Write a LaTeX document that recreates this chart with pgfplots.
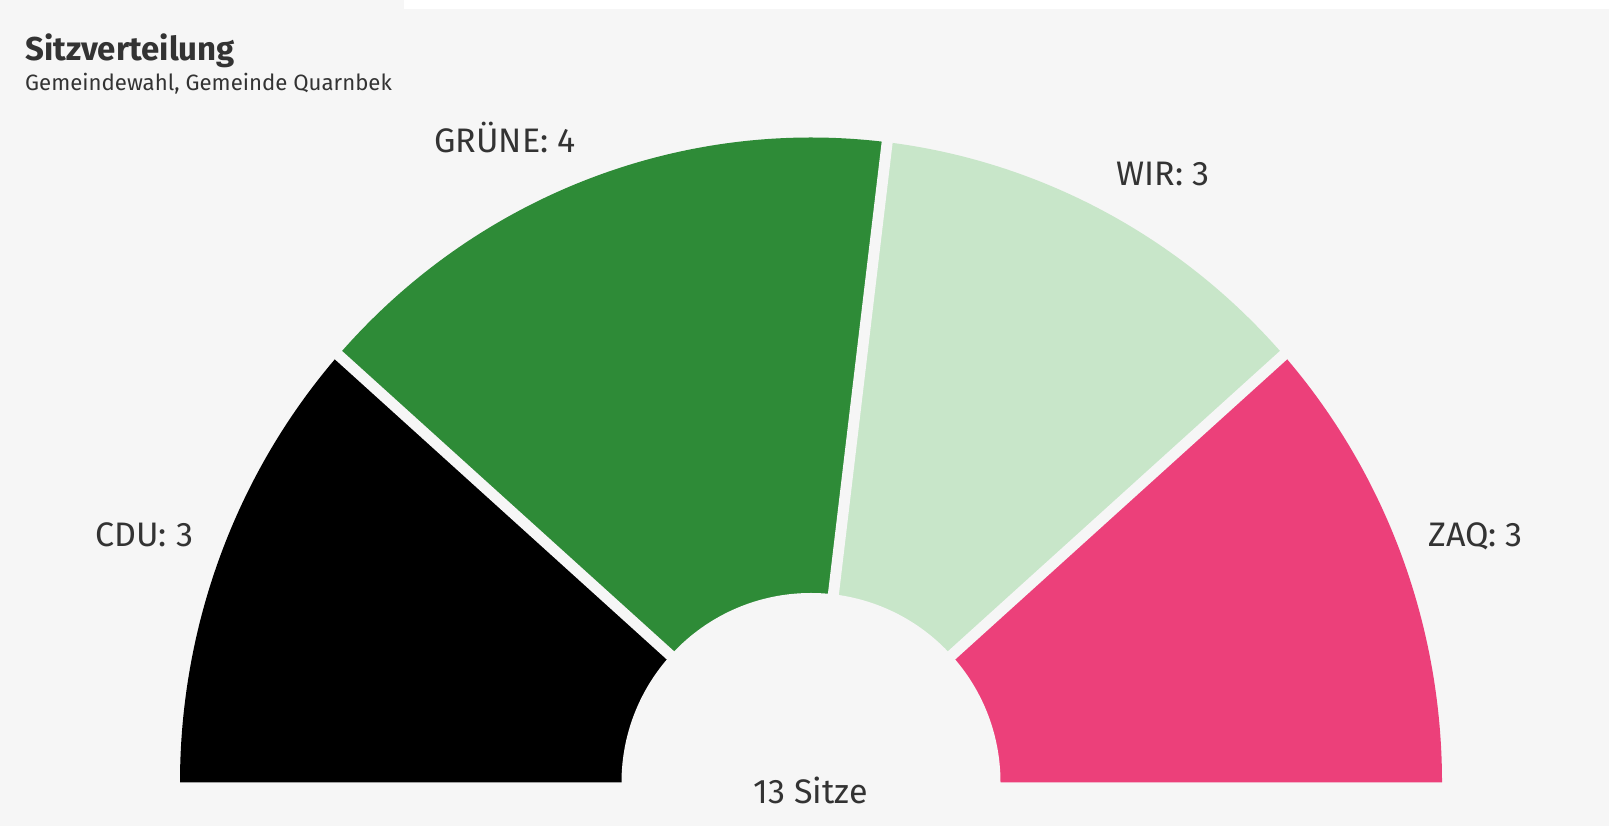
\documentclass[border=0pt]{standalone}
\usepackage{fontspec}
\setmainfont{Fira Sans}
\usepackage{pgfplots}
\usepackage{pgfplotstable}
\pgfplotsset{compat=1.18}
\definecolor{bg}{HTML}{F6F6F6}
\definecolor{txt}{HTML}{333333}
\definecolor{cdu}{HTML}{000000}
\definecolor{gruene}{HTML}{2E8B37}
\definecolor{wir}{HTML}{C8E6C9}
\definecolor{zaq}{HTML}{EC407A}

\pgfplotstableread{
party seats
CDU 3
GRUENE 4
WIR 3
ZAQ 3
}\seattable

\def\cx{811}
\def\cy{43.5}
\def\ra{631}
\def\rb{645}
\def\ri{189.5}

\newcommand\slice[3]{%
  \fill[#3] (axis cs:\cx,\cy) -- ({\cx+\ra*cos(#1)},{\cy+\rb*sin(#1)})
    arc[start angle=#1, end angle=#2, x radius=\ra pt, y radius=\rb pt] -- cycle;}
\newcommand\gap[1]{%
  \draw[bg, line width=11pt] (axis cs:\cx,\cy) -- ({\cx+(\ra+40)*cos(#1)},{\cy+(\rb+40)*sin(#1)});}

\begin{document}
\begin{tikzpicture}
\pgfplotstablegetelem{0}{seats}\of\seattable \pgfmathsetmacro\sA{\pgfplotsretval}
\pgfplotstablegetelem{1}{seats}\of\seattable \pgfmathsetmacro\sB{\pgfplotsretval}
\pgfplotstablegetelem{2}{seats}\of\seattable \pgfmathsetmacro\sC{\pgfplotsretval}
\pgfplotstablegetelem{3}{seats}\of\seattable \pgfmathsetmacro\sD{\pgfplotsretval}
\pgfmathsetmacro\total{\sA+\sB+\sC+\sD}
\pgfmathsetmacro\tB{180-180*\sA/\total}
\pgfmathsetmacro\tC{180-180*(\sA+\sB)/\total}
\pgfmathsetmacro\tD{180-180*(\sA+\sB+\sC)/\total}
\pgfmathtruncatemacro\totalint{\total}
\begin{axis}[
  x=1pt, y=1pt,
  xmin=0, xmax=1609, ymin=0, ymax=826,
  enlargelimits=false,
  hide axis,
  clip=false,
]
\fill[bg] (axis cs:0,0) rectangle (axis cs:1609,826);
\fill[white] (axis cs:404,816.5) rectangle (axis cs:1609,826);
\slice{180}{\tB}{cdu}
\slice{\tB}{\tC}{gruene}
\slice{\tC}{\tD}{wir}
\slice{\tD}{0}{zaq}
\gap{\tB}
\gap{\tC}
\gap{\tD}
\fill[bg] ({\cx-\ri},{\cy-4}) -- ({\cx-\ri},\cy) arc[start angle=180, end angle=0, radius=\ri pt] -- ({\cx+\ri},{\cy-4}) -- cycle;
\node[anchor=base west, inner sep=0pt, text=txt, font=\fontsize{33}{40}\selectfont\bfseries] at (axis cs:25,765) {Sitzverteilung};
\node[anchor=base west, inner sep=0pt, text=txt, font=\fontsize{22.2}{26}\selectfont] at (axis cs:25,735.5) {Gemeindewahl, Gemeinde Quarnbek};
\node[anchor=base, text=txt, font=\fontsize{34}{40}\selectfont] at (axis cs:144.2,279) {CDU: 3};
\node[anchor=base, text=txt, font=\fontsize{34}{40}\selectfont] at (axis cs:505,673.5) {GRÜNE: 4};
\node[anchor=base, text=txt, font=\fontsize{34}{40}\selectfont] at (axis cs:1163,640.3) {WIR: 3};
\node[anchor=base, text=txt, font=\fontsize{34}{40}\selectfont] at (axis cs:1475.6,279) {ZAQ: 3};
\node[anchor=base, text=txt, font=\fontsize{34}{40}\selectfont] at (axis cs:810.8,22.7) {\totalint\ Sitze};
\end{axis}
\end{tikzpicture}
\end{document}
